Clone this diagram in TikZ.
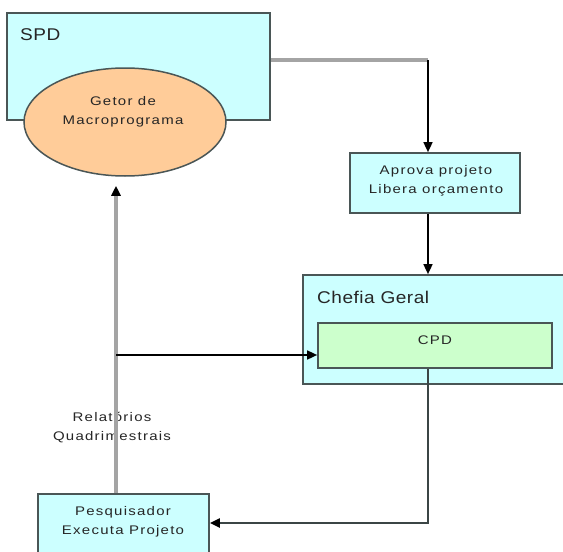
\documentclass[tikz,border=0pt]{standalone}
\usepackage{fontspec}
\setmainfont{Liberation Sans}
\newfontfamily\smallfont{Liberation Sans}[FakeStretch=1.2,LetterSpace=10]
\newfontfamily\bigfont{Liberation Sans}[FakeStretch=1.12,LetterSpace=3]
\usetikzlibrary{arrows.meta,shapes.geometric}
\definecolor{boxfill}{HTML}{CCFFFF}
\definecolor{ellfill}{HTML}{FFCC99}
\definecolor{cpdfill}{HTML}{CCFFCC}
\definecolor{edge}{HTML}{4A5656}
\definecolor{txt}{HTML}{262626}
\definecolor{flow}{HTML}{A4A4A4}
\begin{document}
\begin{tikzpicture}[x=1pt,y=1pt,
  panel/.style={draw=edge,line width=1.7pt,fill=boxfill,rectangle,inner sep=0pt},
  smalltxt/.style={inner sep=0pt,align=center,text=txt,font=\smallfont\fontsize{12.5}{19}\selectfont},
  bigtxt/.style={inner sep=0pt,anchor=base west,text=txt,font=\bigfont\fontsize{17}{20}\selectfont},
  tip/.style={-{Triangle[length=10pt,width=9pt,color=black]}},
  grayflow/.style={draw=flow,line width=3.4pt},
  blackflow/.style={draw=black,line width=1.6pt},
  darkflow/.style={draw=edge!80!black,line width=2pt}]
\useasboundingbox (0,0) rectangle (563,-552);
\clip (0,0) rectangle (563,-552);
\fill[white] (0,0) rectangle (563,-552);

% SPD panel with the macroprogram manager
\node[panel,minimum width=263pt,minimum height=107pt] (spd) at (138.5,-66.5) {};
\node[bigtxt] (spdlbl) at (20,-40) {SPD};
\node[draw=edge,line width=1.5pt,fill=ellfill,ellipse,minimum width=202pt,minimum height=108pt,inner sep=0pt] (ell) at (125,-122) {};
\node[smalltxt] (elltxt) at (123,-112) {Getor de\\Macroprograma};

% approval step
\node[panel,minimum width=170pt,minimum height=60pt] (apr) at (435,-183) {};
\node[smalltxt] (aprtxt) at (436,-181) {Aprova projeto\\Libera orçamento};

% general management with CPD
\node[panel,minimum width=272pt,minimum height=109pt] (chef) at (439,-329.5) {};
\node[bigtxt] (cheflbl) at (317,-303) {Chefia Geral};
\node[draw=edge,line width=1.7pt,fill=cpdfill,rectangle,minimum width=234pt,minimum height=45pt,inner sep=0pt] (cpd) at (435,-345.5) {};
\node[smalltxt] (cpdtxt) at (435,-340) {CPD};

% researcher
\node[panel,minimum width=171pt,minimum height=66pt] (pesq) at (123.5,-527) {};
\node[smalltxt] (pesqtxt) at (123,-522) {Pesquisador\\Executa Projeto};

% reports label
\node[smalltxt] (rel) at (112,-427.5) {Relatórios\\Quadrimestrais};

% routing points
\coordinate (c1) at (428,-60);
\coordinate (c2) at (428,-523);
\coordinate (c3) at (116,-355);

% connectors
\draw[grayflow] (c1 -| spd.east) -- (c1);
\draw[blackflow,tip] (c1) -- (c1 |- apr.north);
\draw[blackflow,tip] (c1 |- apr.south) -- (c1 |- chef.north);
\draw[darkflow,tip] (c1 |- cpd.south) -- (c2) -- (c2 -| pesq.east);
\draw[grayflow,tip,shorten >=9pt] (c3 |- pesq.north) -- (c3 |- ell.south);
\draw[blackflow,tip] (c3) -- (c3 -| cpd.west);
\end{tikzpicture}
\end{document}
